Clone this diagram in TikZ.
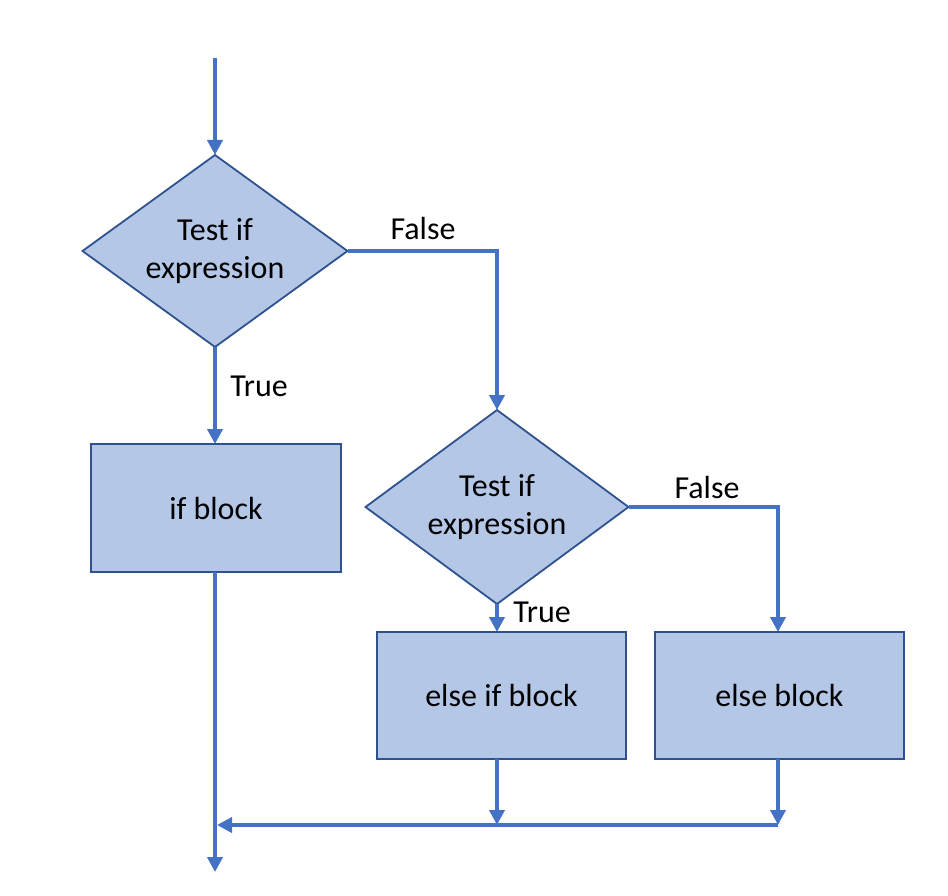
\documentclass[tikz,border=0pt]{standalone}
\usepackage{fontspec}
\setmainfont{Carlito}
\usetikzlibrary{shapes.geometric,arrows.meta}
\definecolor{linec}{HTML}{4472C4}
\definecolor{borderc}{HTML}{2F528F}
\definecolor{fillc}{HTML}{B4C7E7}
\begin{document}
\begin{tikzpicture}[x=1pt,y=-1pt,
  every node/.style={font=\fontsize{32}{38}\selectfont},
  decision/.style={shape=diamond, draw=borderc, fill=fillc, line width=1.8pt, inner sep=0pt, outer sep=0pt},
  dtext/.style={label={[align=center, inner sep=0pt]center:Test if\\expression}},
  block/.style={shape=rectangle, draw=borderc, fill=fillc, line width=1.8pt, inner sep=0pt, outer sep=0pt, minimum width=250pt, minimum height=128pt, align=center},
  flow/.style={draw=linec, line width=4pt},
  arr/.style={flow, -{Triangle[width=15pt,length=15pt]}},
  lbl/.style={inner sep=0pt}
]
\useasboundingbox (0,0) rectangle (948,896);
\node[decision, dtext, minimum width=265pt, minimum height=192pt] (d1) at (215,251) {};
\node[decision, dtext, minimum width=263pt, minimum height=194pt] (d2) at (497,507) {};
\node[block] (ifb) at (216,508) {if block};
\node[block, minimum width=249pt, minimum height=127pt] (eib) at (501.5,695.5) {else if block};
\node[block, minimum width=249pt, minimum height=127pt] (elb) at (779.5,695.5) {else block};
\coordinate (start) at (215,58);
\coordinate (j2) at (497,825);
\coordinate (j3) at (778,825);
\coordinate (j1) at (215,825);
\coordinate (stop) at (215,872);
\draw[arr] (start) -- (d1.north);
\draw[arr] (d1.east) -| (d2.north);
\draw[arr] (d1.south) -- (d1.south |- ifb.north);
\draw[arr] (d2.east) -| (j3 |- elb.north);
\draw[arr] (d2.south) -- (d2.south |- eib.north);
\draw[arr] (j2 |- eib.south) -- (j2);
\draw[arr] (j3 |- elb.south) -- (j3);
\draw[arr, shorten >=2pt] (j3) -- (j1);
\draw[arr] (stop |- ifb.south) -- (stop);
\node[lbl] (f1) at (423,229) {False};
\node[lbl] (t1) at (259,386) {True};
\node[lbl] (f2) at (707,488) {False};
\node[lbl] (t2) at (542,612) {True};
\end{tikzpicture}
\end{document}
